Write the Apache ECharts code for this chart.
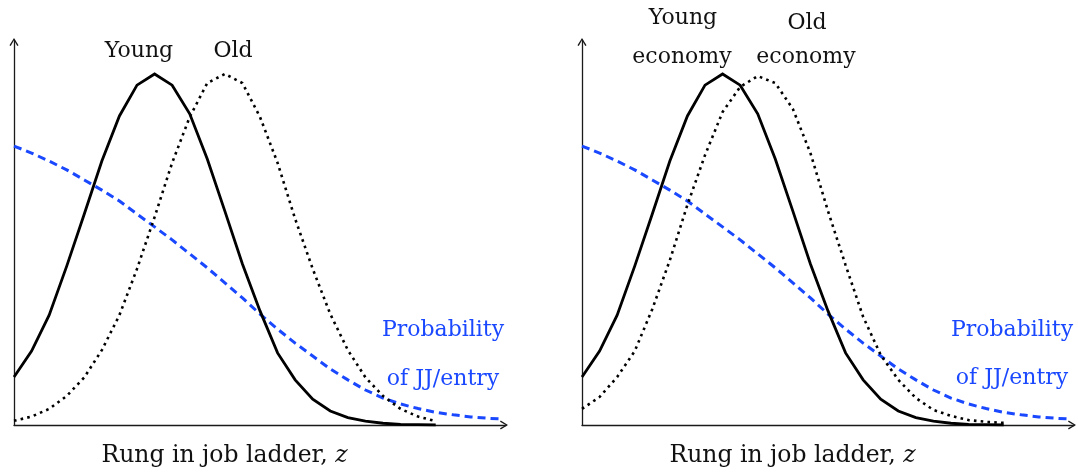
<!DOCTYPE html>
<html>
<head>
<meta charset="utf-8">
<script src="https://cdn.jsdelivr.net/npm/echarts@6/dist/echarts.min.js"></script>
<style>
html,body{margin:0;padding:0;background:#fff;}
#chart{width:1078px;height:474px;}
</style>
</head>
<body>
<div id="chart"></div>
<script>
// ---- data ----
const rungs = [0,1,2,3,4,5,6,7,8,9,10,11,12,13,14,15,16,17,18,19,20,21,22,23,24];
const youngShare = [13.7,21.1,31.4,45.4,60.3,75.4,88.3,97.1,100.3,97.1,88.9,76.0,61.1,46.0,32.6,20.6,12.9,7.4,4.0,2.1,1.1,0.5,0.2,0.1,0.0];
const oldShareLeft = [1.2,2.4,4.6,8.3,13.6,21.4,31.4,44.6,59.4,74.9,88.0,97.7,100.3,97.7,88.0,74.9,58.9,44.6,31.7,21.4,13.6,8.3,4.6,2.4,1.1];
const oldShareRight = [4.6,8.0,13.7,21.1,33.1,47.1,62.9,77.1,89.4,96.6,99.7,97.7,90.3,77.7,61.1,45.7,30.9,20.0,12.9,7.7,4.3,2.6,1.4,0.9,0.6];
const jjRungs = [0,1,2,3,4,5,6,7,8,9,10,11,12,13,14,15,16,17,18,19,20,21,22,23,24,25,26,27,27.8];
const jjProb = [79.7,77.7,75.4,72.9,70.0,67.1,64.0,60.3,56.6,52.9,48.9,44.9,40.6,36.3,31.7,27.4,23.4,19.7,16.0,12.9,10.0,7.7,6.0,4.7,3.6,2.9,2.3,1.9,1.7];
const xAxisTitle = 'Rung in job ladder, {i|z}';
const leftLabels = ['Young', 'Old'];
const rightLabels = ['Young', 'economy', 'Old', 'economy'];
const jjLabel = ['Probability', 'of JJ/entry'];

const pairs = (xs, ys) => xs.map((x, i) => [x, ys[i]]);

const SERIF = '"DejaVu Serif", serif';
const BLUE = '#1a48ff';
const arrow = 'path://M5,0 L10,8 L8.6,8.8 L5,2.6 L1.4,8.8 L0,8 Z';

function makeX(gi) {
  return {
    gridIndex: gi, type: 'value', min: 0, max: 28,
    axisTick: {show:false}, axisLabel: {show:false}, splitLine: {show:false},
    axisLine: {show:true, symbol:['none', arrow], symbolSize:[10,8], symbolOffset:[0,-2], lineStyle:{color:'#1a1a1a', width:1.3}},
    name: xAxisTitle, nameLocation: 'middle', nameGap: 19,
    nameTextStyle: {
      fontFamily: SERIF, fontSize: 23.5, color: '#111', padding: [0, 71, 0, 0],
      rich: {i: {fontFamily: SERIF, fontSize: 23.5, fontStyle: 'italic', color: '#111'}}
    }
  };
}
function makeY(gi) {
  return {
    gridIndex: gi, type: 'value', min: 0, max: 110,
    axisTick: {show:false}, axisLabel: {show:false}, splitLine: {show:false},
    axisLine: {show:true, onZero:false, symbol:['none', arrow], symbolSize:[10,8], symbolOffset:[0,-2], lineStyle:{color:'#1a1a1a', width:1.3}}
  };
}
function blueSeries(gi) {
  return {type:'line', xAxisIndex:gi, yAxisIndex:gi, data: pairs(jjRungs, jjProb),
    showSymbol:false, smooth:false, z:2,
    lineStyle:{color:BLUE, width:3, type:[8,5]}};
}
function solidSeries(gi) {
  return {type:'line', xAxisIndex:gi, yAxisIndex:gi, data: pairs(rungs, youngShare),
    showSymbol:false, smooth:false, z:3,
    lineStyle:{color:'#000', width:2.8, join:'miter'}};
}
function dottedSeries(gi, vals) {
  return {type:'line', xAxisIndex:gi, yAxisIndex:gi, data: pairs(rungs, vals),
    showSymbol:false, smooth:false, z:4,
    lineStyle:{color:'#000', width:2.6, type:[2.6,4.2]}};
}
function txt(x, y, s, color) {
  return {type:'text', x:x, y:y, z:10,
    style:{text:s, fontFamily:SERIF, fontSize:22, fill:color || '#111', align:'center', verticalAlign:'middle'}};
}

const chart = echarts.init(document.getElementById('chart'), null, {renderer:'canvas'});
chart.setOption({
  animation: false,
  backgroundColor: '#fff',
  grid: [
    {left:14, top:40, width:492, height:385},
    {left:582, top:40, width:492, height:385}
  ],
  xAxis: [makeX(0), makeX(1)],
  yAxis: [makeY(0), makeY(1)],
  series: [
    blueSeries(0), solidSeries(0), dottedSeries(0, oldShareLeft),
    blueSeries(1), solidSeries(1), dottedSeries(1, oldShareRight)
  ],
  graphic: [
    txt(139, 51, leftLabels[0]),
    txt(233, 51, leftLabels[1]),
    txt(683, 18, rightLabels[0]),
    txt(682, 57, rightLabels[1]),
    txt(807, 23, rightLabels[2]),
    txt(806, 57, rightLabels[3]),
    txt(443, 330, jjLabel[0], BLUE),
    txt(443, 379, jjLabel[1], BLUE),
    txt(1012, 330, jjLabel[0], BLUE),
    txt(1012, 378, jjLabel[1], BLUE)
  ]
});
</script>
</body>
</html>
